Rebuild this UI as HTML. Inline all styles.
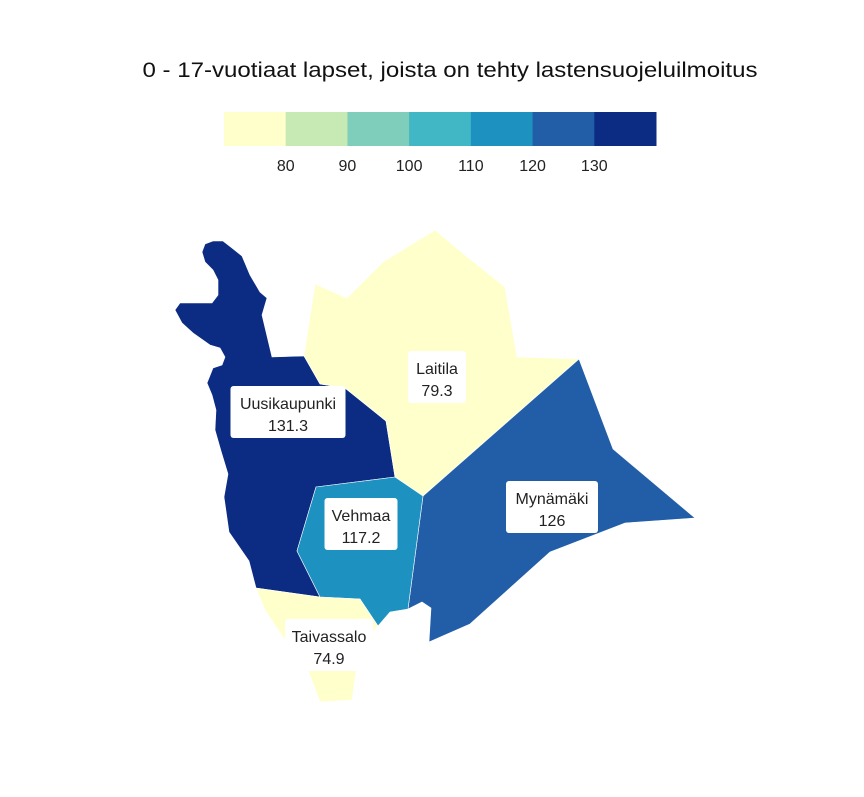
<!DOCTYPE html>
<html><head><meta charset="utf-8"><style>
body{margin:0;background:#fff;font-family:"Liberation Sans",sans-serif;}
svg text{font-family:"Liberation Sans",sans-serif;}
</style></head><body>
<svg id="chart" width="864" height="792" viewBox="0 0 864 792">
<text x="450" y="77" text-anchor="middle" font-size="21" textLength="615" lengthAdjust="spacingAndGlyphs" fill="#111">0 - 17-vuotiaat lapset, joista on tehty lastensuojeluilmoitus</text>
<g id="legend"></g>
<g id="regions"></g>
<g id="labels"></g>
</svg>
<script>
const regionNames = ["Uusikaupunki","Laitila","Mynämäki","Vehmaa","Taivassalo"];
const regionValues = [131.3, 79.3, 126, 117.2, 74.9];
const legendTicks = [80, 90, 100, 110, 120, 130];
const binColors = ["#ffffcc","#c7e9b4","#7fcdbb","#41b6c4","#1d91c0","#225ea8","#0c2c84"];

const shapes = {
 "Uusikaupunki":"202,252 205,244 213,241 223,241 232,248 242,256 250,275 260,292 267,298 262,315 272,357 304,356 320,384 345,388 386,421 395,477 316,487 297,551 320,597 256,588 249,561 229,532 224,497 228,474 221,451 215,430 216,410 212,395 207,383 213,368 222,365 225,357 220,348 210,345 193,333 182,323 175,310 180,303 212,303 218,295 218,280 213,270 205,262",
 "Laitila":"304,356 315,284 347,298 383,262 435,230 465,255 505,287 517,357 579,359 423,496 395,477 386,421 345,388 320,384",
 "Mynämäki":"579,359 613,449 695,518 625,523 550,552 470,624 429,642 431,608 422,602 408,609 423,496",
 "Vehmaa":"316,487 395,477 423,496 408,609 390,612 378,626 360,599 320,597 297,551",
 "Taivassalo":"256,588 320,597 360,599 378,626 365,640 356,672 352,700 320,702 308,670 285,640 265,610"
};
const labelPos = {
 "Uusikaupunki":[288,412],"Laitila":[437,377],"Mynämäki":[552,507],"Vehmaa":[361,524],"Taivassalo":[329,645]
};
const labelW = {"Uusikaupunki":115,"Laitila":58,"Mynämäki":92,"Vehmaa":73,"Taivassalo":88};

function colorFor(v){
  let i = 0;
  while (i < legendTicks.length && v >= legendTicks[i]) i++;
  return binColors[i];
}
const NS = "http://www.w3.org/2000/svg";
const lg = document.getElementById("legend");
const lx0 = 224, lw = 432 / binColors.length;
binColors.forEach((c, i) => {
  const r = document.createElementNS(NS, "rect");
  r.setAttribute("x", lx0 + i * lw); r.setAttribute("y", 112);
  r.setAttribute("width", lw + 0.5); r.setAttribute("height", 34);
  r.setAttribute("fill", c);
  
  
  lg.appendChild(r);
});
legendTicks.forEach((t, i) => {
  const tx = document.createElementNS(NS, "text");
  tx.setAttribute("x", lx0 + (i + 1) * lw); tx.setAttribute("y", 171);
  tx.setAttribute("text-anchor", "middle"); tx.setAttribute("font-size", "16");
  tx.setAttribute("fill", "#222"); tx.textContent = t;
  
  
  lg.appendChild(tx);
});
const rg = document.getElementById("regions"), lb = document.getElementById("labels");
regionNames.forEach((n, i) => {
  const p = document.createElementNS(NS, "polygon");
  p.setAttribute("points", shapes[n]);
  p.setAttribute("fill", colorFor(regionValues[i]));
  p.setAttribute("stroke", "#fff"); p.setAttribute("stroke-width", "0.6");
  
  
  rg.appendChild(p);
});
regionNames.forEach((n, i) => {
  const [cx, cy] = labelPos[n], w = labelW[n];
  const g = document.createElementNS(NS, "g");
  
  
  const r = document.createElementNS(NS, "rect");
  r.setAttribute("x", cx - w / 2); r.setAttribute("y", cy - 26);
  r.setAttribute("width", w); r.setAttribute("height", 52);
  r.setAttribute("rx", 3); r.setAttribute("fill", "#fff");
  g.appendChild(r);
  const t1 = document.createElementNS(NS, "text");
  t1.setAttribute("x", cx); t1.setAttribute("y", cy - 3);
  t1.setAttribute("text-anchor", "middle"); t1.setAttribute("font-size", "16");
  t1.setAttribute("fill", "#222"); t1.textContent = n;
  g.appendChild(t1);
  const t2 = document.createElementNS(NS, "text");
  t2.setAttribute("x", cx); t2.setAttribute("y", cy + 19);
  t2.setAttribute("text-anchor", "middle"); t2.setAttribute("font-size", "16");
  t2.setAttribute("fill", "#222"); t2.textContent = regionValues[i];
  g.appendChild(t2);
  lb.appendChild(g);
});
</script>
</body></html>
